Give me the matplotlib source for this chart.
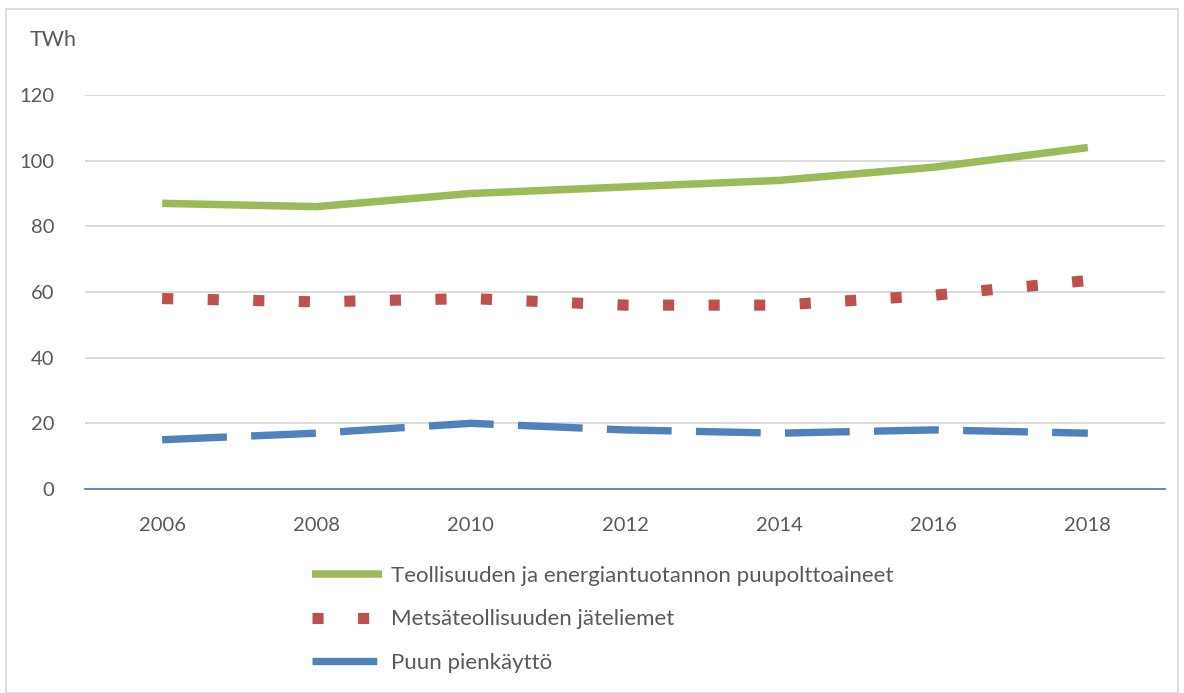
import matplotlib
matplotlib.use("Agg")
import matplotlib.pyplot as plt
from matplotlib.patches import Rectangle

years = ["2006", "2008", "2010", "2012", "2014", "2016", "2018"]
teollisuus = [87, 86, 90, 92, 94, 98, 104]
jateliemet = [58, 57, 58, 56, 56, 59, 63.5]
pienkaytto = [15, 17, 20, 18, 17, 18, 17]

labels = ["Teollisuuden ja energiantuotannon puupolttoaineet",
          "Metsäteollisuuden jäteliemet",
          "Puun pienkäyttö"]
yticks = [0, 20, 40, 60, 80, 100, 120]

plt.rcParams['font.family'] = ['Lato', 'DejaVu Sans']
TXT = "#595959"
FS = 14.5
LFS = 16

fig = plt.figure(figsize=(11.84, 6.93), dpi=100)
ax = fig.add_axes([85/1184, 1-489/693, 1080/1184, (489-95)/693])

x = list(range(len(years)))
ax.plot(x, teollisuus, color="#9bbb59", lw=5.4, solid_capstyle="butt",
        solid_joinstyle="round", label=labels[0], zorder=3)
ax.plot(x, jateliemet, color="#c0504d", lw=8.0, linestyle=(0, (1, 3.1)),
        dash_capstyle="butt", label=labels[1], zorder=3)
ax.plot(x, pienkaytto, color="#4f81bd", lw=5.3, linestyle=(0, (8.8, 3.3)),
        dash_capstyle="butt", label=labels[2], zorder=3)

ax.set_xlim(-0.5, len(years) - 0.5)
ax.set_ylim(0, 120)
ax.set_yticks(yticks)
ax.set_xticks(x)
ax.set_xticklabels(years)
ax.tick_params(axis="both", length=0, colors=TXT, labelsize=FS)
ax.tick_params(axis="y", pad=22)
ax.tick_params(axis="x", pad=20)
ax.grid(axis="y", color="#d9d9d9", lw=1.3)
ax.set_axisbelow(True)
for s in ["top", "right", "left"]:
    ax.spines[s].set_visible(False)
ax.spines["bottom"].set_color("#4f81bd")
ax.spines["bottom"].set_linewidth(1.3)
ax.spines["bottom"].set_zorder(2)

fig.text(30/1184, 1-40/693, "TWh", color=TXT, fontsize=15.5, va="center", ha="left")

leg = fig.legend(loc="upper left", bbox_to_anchor=(312/1184, 1-566/693),
                 frameon=False, fontsize=LFS, handlelength=3.15,
                 handletextpad=0.42, labelspacing=1.05, borderpad=0,
                 borderaxespad=0)
for t in leg.get_texts():
    t.set_color(TXT)

fig.patches.append(Rectangle((6/1184, 0), (1178-6)/1184, 1-9/693,
                             transform=fig.transFigure, fill=False,
                             edgecolor="#d9d9d9", lw=1.3))

fig.savefig("out.png", dpi=100)
